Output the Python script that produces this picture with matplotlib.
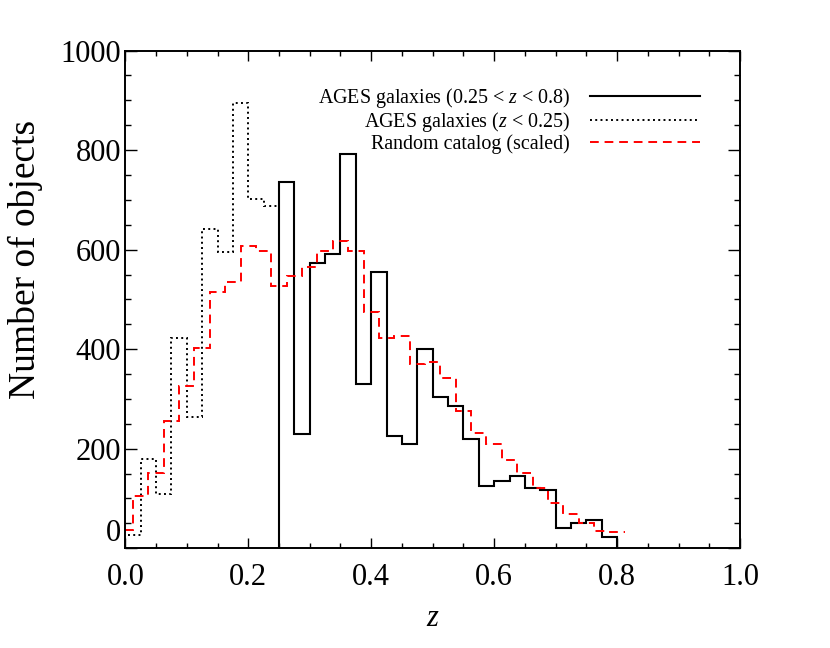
import matplotlib
matplotlib.use("Agg")
import matplotlib.pyplot as plt
import numpy as np

plt.rcParams['font.family'] = ['Liberation Serif', 'DejaVu Serif']
plt.rcParams['mathtext.fontset'] = 'custom'
plt.rcParams['mathtext.rm'] = 'Liberation Serif'
plt.rcParams['mathtext.it'] = 'Liberation Serif:italic'

dz = 0.025

# AGES galaxies, z < 0.25 (dotted)
low_z_edges = np.concatenate([[0.005], np.arange(0.025, 0.25 + 1e-9, dz)])
low_z_counts = [27, 179, 108, 422, 264, 642, 596, 894, 701, 688]

# AGES galaxies, 0.25 < z < 0.8 (solid)
main_edges = np.arange(0.25, 0.8 + 1e-9, dz)
main_counts = [735, 230, 573, 592, 792, 330, 556, 225, 210, 401, 303,
               286, 220, 125, 136, 146, 120, 116, 41, 50, 56, 23]

# random catalog, scaled (red dashed)
rand_edges = np.concatenate([[0.0], np.arange(0.0125, 0.8125 + 1e-9, dz)])
rand_counts = [37, 104, 151, 256, 326, 402, 514, 535, 607, 598, 527,
               547, 565, 598, 618, 598, 474, 422, 427, 370, 375, 342,
               276, 232, 209, 177, 152, 122, 91, 69, 50, 35, 33]

labels = ["AGES galaxies (0.25 < $z$ < 0.8)",
          "AGES galaxies ($z$ < 0.25)",
          "Random catalog (scaled)"]

fig = plt.figure(figsize=(8.3, 6.48), dpi=100)
ax = fig.add_axes([0.151, 0.154, 0.7406, 0.7679])

h1 = ax.stairs(main_counts, main_edges, color='black', lw=1.5,
               baseline=0)
h2 = ax.stairs(low_z_counts, low_z_edges, color='black', lw=1.4,
               linestyle=(0, (1, 1.7)), baseline=None)
h3 = ax.stairs(rand_counts, rand_edges, color='red', lw=1.4,
               linestyle=(0, (4.5, 3)), baseline=None)

ax.set_xlim(0, 1)
ax.set_ylim(0, 1000)
ax.set_xticks(np.arange(0, 1.01, 0.2))
ax.set_xticks(np.arange(0, 1.01, 0.05), minor=True)
ax.set_yticks(np.arange(0, 1001, 200))
ax.set_yticks(np.arange(0, 1001, 50), minor=True)
ax.xaxis.set_major_formatter(matplotlib.ticker.FormatStrFormatter('%.1f'))

ax.tick_params(which='both', direction='in', top=True, right=True,
               width=1.0, labelsize=22)
ax.tick_params(axis='x', which='major', length=7.2, pad=11)
ax.tick_params(axis='x', which='minor', length=3.6)
ax.tick_params(axis='y', which='major', length=8.6, pad=3)
ax.tick_params(axis='y', which='minor', length=4.3)
for s in ax.spines.values():
    s.set_linewidth(1.4)

fig.canvas.draw()
ax.get_yticklabels()[0].set_va('bottom')

ax.set_xlabel('z', fontsize=22, fontstyle='italic', labelpad=8)
ax.set_ylabel('Number of objects', fontsize=27)
ax.yaxis.set_label_coords(-0.134, 0.581)

ax.legend([h1, h2, h3], labels, loc='upper right',
          bbox_to_anchor=(0.935, 0.928), frameon=False, fontsize=14.4,
          markerfirst=False, handlelength=5.5, handletextpad=1.0,
          labelspacing=0.0, borderpad=0, borderaxespad=0)

fig.savefig('out.png', dpi=100)
